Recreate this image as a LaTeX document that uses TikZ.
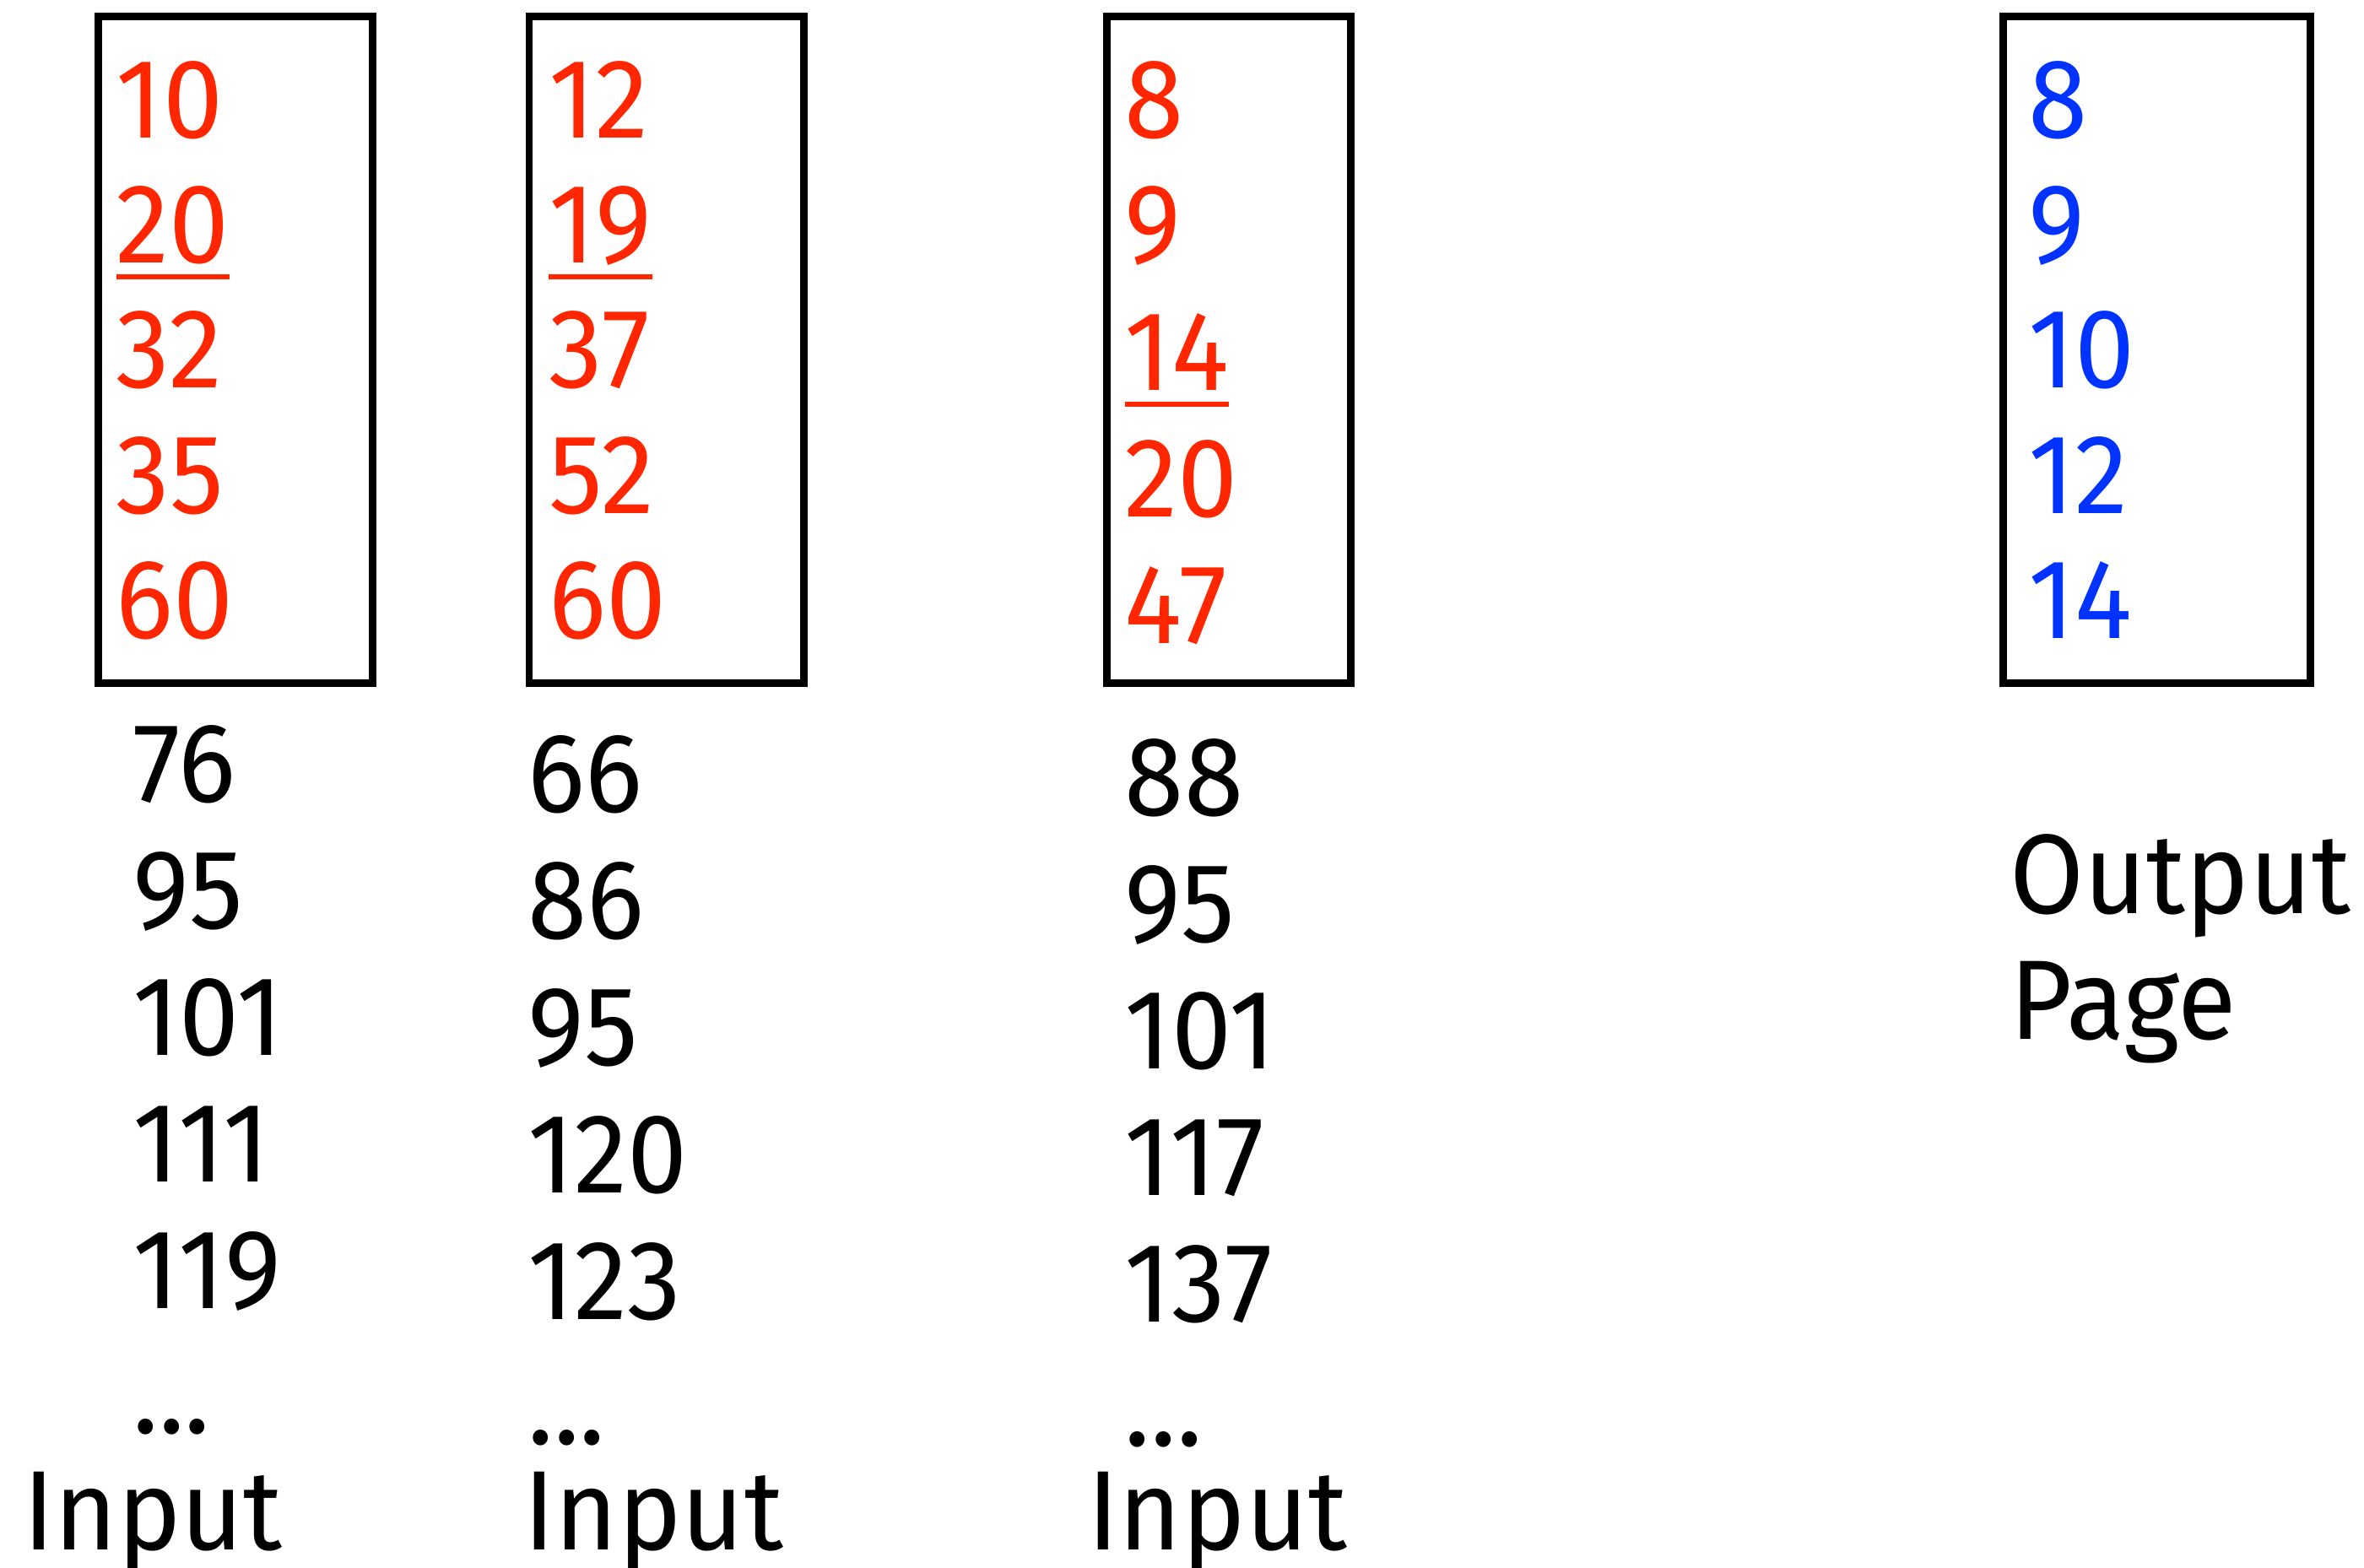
\documentclass[tikz,border=0pt]{standalone}
\usepackage{fontspec}
\setmainfont{Fira Sans}[FakeStretch=0.95]
\definecolor{redno}{RGB}{255,38,0}
\definecolor{blueno}{RGB}{0,51,255}

\begin{document}
\begin{tikzpicture}[x=1pt,y=-1pt,line join=miter,
  pagebox/.style={draw=black,line width=5pt,inner sep=0pt},
  rec/.style={anchor=base west,inner sep=0pt,font=\fontsize{75}{90}\selectfont},
  inrec/.style={rec,text=redno},
  outrec/.style={rec,text=blueno},
  uline/.style={draw=redno,line width=3.5pt}]
\useasboundingbox (0,0) rectangle (1568,1040);
% pages in memory
\node [pagebox,minimum width=182pt,minimum height=442pt] (page1) at (156,232) {};
\node [pagebox,minimum width=182pt,minimum height=442pt] (page2) at (442,232) {};
\node [pagebox,minimum width=162pt,minimum height=442pt] (page3) at (815,232) {};
\node [pagebox,minimum width=204pt,minimum height=442pt] (outpage) at (1430.5,232) {};
% first input page
\node [inrec] (a1) at (77,91.7) {10};
\node [inrec] (a2) at (77,174.5) {20};
\node [inrec] (a3) at (77,257.5) {32};
\node [inrec] (a4) at (77,340.6) {35};
\node [inrec] (a5) at (77,423.7) {60};
\draw [uline] ([yshift=-9pt]a2.base west)-- ([yshift=-9pt]a2.base east);
% second input page
\node [inrec] (b1) at (364,91.7) {12};
\node [inrec] (b2) at (364,174.5) {19};
\node [inrec] (b3) at (364,257.5) {37};
\node [inrec] (b4) at (364,340.6) {52};
\node [inrec] (b5) at (364,423.7) {60};
\draw [uline] ([yshift=-9pt]b2.base west)-- ([yshift=-9pt]b2.base east);
% third input page
\node [inrec] (c1) at (746,91.7) {8};
\node [inrec] (c2) at (746,174.5) {9};
\node [inrec] (c3) at (746,259) {14};
\node [inrec] (c4) at (746,342.9) {20};
\node [inrec] (c5) at (746,426.8) {47};
\draw [uline] ([yshift=-9pt]c3.base west)-- ([yshift=-9pt]c3.base east);
% output page
\node [outrec] (o1) at (1345,91.7) {8};
\node [outrec] (o2) at (1345,174.5) {9};
\node [outrec] (o3) at (1345,257.5) {10};
\node [outrec] (o4) at (1345,340.6) {12};
\node [outrec] (o5) at (1345,423.7) {14};
% rest of the runs
\node [rec] (a6) at (88,532) {76};
\node [rec] (a7) at (88,616) {95};
\node [rec] (a8) at (88,700) {101};
\node [rec] (a9) at (88,784) {111};
\node [rec] (a10) at (88,868) {119};
\node [rec] (adots) at (88,951) {...};
\node [rec] (in1) at (15,1028) {Input};
\node [rec] (b6) at (350,539) {66};
\node [rec] (b7) at (350,623) {86};
\node [rec] (b8) at (350,707) {95};
\node [rec] (b9) at (350,791) {120};
\node [rec] (b10) at (350,875) {123};
\node [rec] (bdots) at (350,958) {...};
\node [rec] (in2) at (347,1028) {Input};
\node [rec] (c6) at (746,541) {88};
\node [rec] (c7) at (746,625) {95};
\node [rec] (c8) at (746,709) {101};
\node [rec] (c9) at (746,793) {117};
\node [rec] (c10) at (746,877) {137};
\node [rec] (cdots) at (746,959) {...};
\node [rec] (in3) at (721,1028) {Input};
\node [rec] (outl1) at (1333,606) {Output};
\node [rec] (outl2) at (1333,689.5) {Page};
\end{tikzpicture}
\end{document}
